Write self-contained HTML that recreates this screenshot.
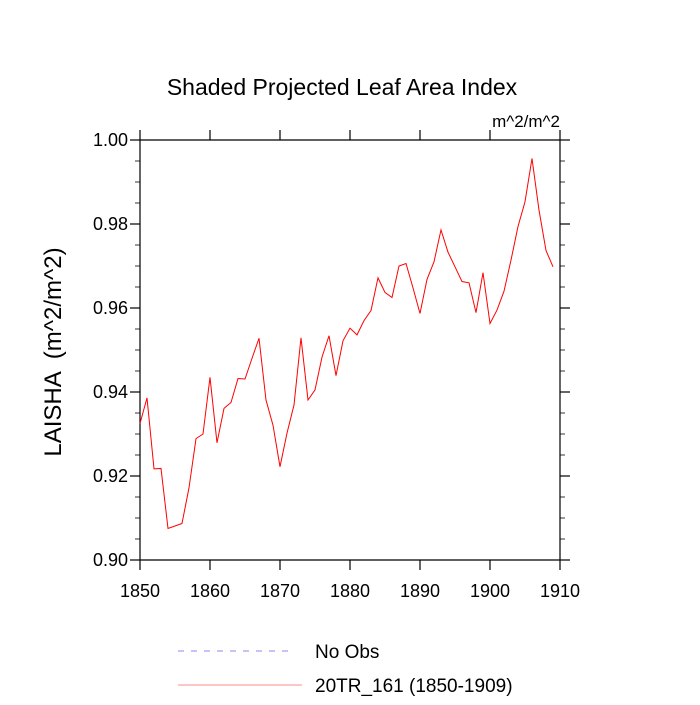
<!DOCTYPE html>
<html><head><meta charset="utf-8"><style>
body{margin:0;background:#fff}
svg text{font-family:"Liberation Sans",sans-serif;fill:#000}
</style></head><body>
<svg id="chart" width="700" height="700" xmlns="http://www.w3.org/2000/svg">
<text x="342" y="95" font-size="23" text-anchor="middle">Shaded Projected Leaf Area Index</text>
<text x="560" y="127" font-size="17" text-anchor="end">m^2/m^2</text>
<text transform="translate(61,352) rotate(-90)" font-size="24" text-anchor="middle" xml:space="preserve">LAISHA  (m^2/m^2)</text>
<g id="axes"></g>
<polyline id="series" fill="none" stroke="#ff0000" stroke-width="1"/>
<line x1="178" y1="651" x2="295" y2="651" stroke="#8888ee" stroke-dasharray="6,7"/>
<text x="315" y="658" font-size="19">No Obs</text>
<line x1="178" y1="685" x2="302" y2="685" stroke="#ff8888"/>
<text x="315" y="692" font-size="19">20TR_161 (1850-1909)</text>
</svg>
<script>
const years=[];for(let y=1850;y<=1909;y++)years.push(y);
const values=[0.9325,0.9386,0.9217,0.9218,0.9075,0.9081,0.9087,0.9172,0.9289,0.930,
0.9435,0.9279,0.9361,0.9375,0.9432,0.9431,0.948,0.9528,0.9381,0.9321,
0.9222,0.9302,0.9369,0.9529,0.9381,0.9405,0.9483,0.9534,0.9439,0.9522,
0.9552,0.9536,0.957,0.9594,0.9672,0.9637,0.9625,0.970,0.9706,0.9648,
0.9587,0.9668,0.971,0.9786,0.9733,0.9698,0.9663,0.966,0.9589,0.9684,
0.9563,0.9595,0.964,0.9714,0.9794,0.9853,0.9956,0.9833,0.9737,0.9698];
const xTicks=[1850,1860,1870,1880,1890,1900,1910];
const yTicks=[0.90,0.92,0.94,0.96,0.98,1.00];
const yMinor=[];for(let i=0;i<=20;i++)yMinor.push(0.90+i*0.005);
const L=140,R=560,T=140,B=560;
const xs=v=>L+(v-1850)/(1910-1850)*(R-L);
const ys=v=>B-(v-0.90)/(1.00-0.90)*(B-T);
const NS="http://www.w3.org/2000/svg";
const g=document.getElementById('axes');
function ln(x1,y1,x2,y2,w,name){const l=document.createElementNS(NS,'line');
l.setAttribute('x1',x1);l.setAttribute('y1',y1);l.setAttribute('x2',x2);l.setAttribute('y2',y2);
l.setAttribute('stroke','#000');l.setAttribute('stroke-width',w);


g.appendChild(l);}
function tx(x,y,s,anchor,name){const t=document.createElementNS(NS,'text');
t.setAttribute('x',x);t.setAttribute('y',y);t.setAttribute('font-size','18');t.setAttribute('text-anchor',anchor);t.textContent=s;


g.appendChild(t);}
ln(L,T,R,T,1.2,'plot-frame-top');ln(L,B,R,B,1.2,'plot-frame-bottom');
ln(L,T,L,B,1.2,'plot-frame-left');ln(R,T,R,B,1.2,'plot-frame-right');
yMinor.forEach(v=>{const y=ys(v);ln(L-5,y,L,y,0.8,'y-minor-tick');ln(R,y,R+5,y,0.8,'y-minor-tick');});
yTicks.forEach(v=>{const y=ys(v);ln(L-10,y,L,y,1.2,'y-major-tick');ln(R,y,R+10,y,1.2,'y-major-tick');
tx(L-12,y+6,v.toFixed(2),'end','y-tick-label');});
xTicks.forEach(v=>{const x=xs(v);ln(x,B,x,B+10,1.2,'x-major-tick');ln(x,T-10,x,T,1.2,'x-major-tick');
tx(x,B+37,String(v),'middle','x-tick-label');});
document.getElementById('series').setAttribute('points',years.map((y,i)=>xs(y)+','+ys(values[i])).join(' '));
</script>
</body></html>
